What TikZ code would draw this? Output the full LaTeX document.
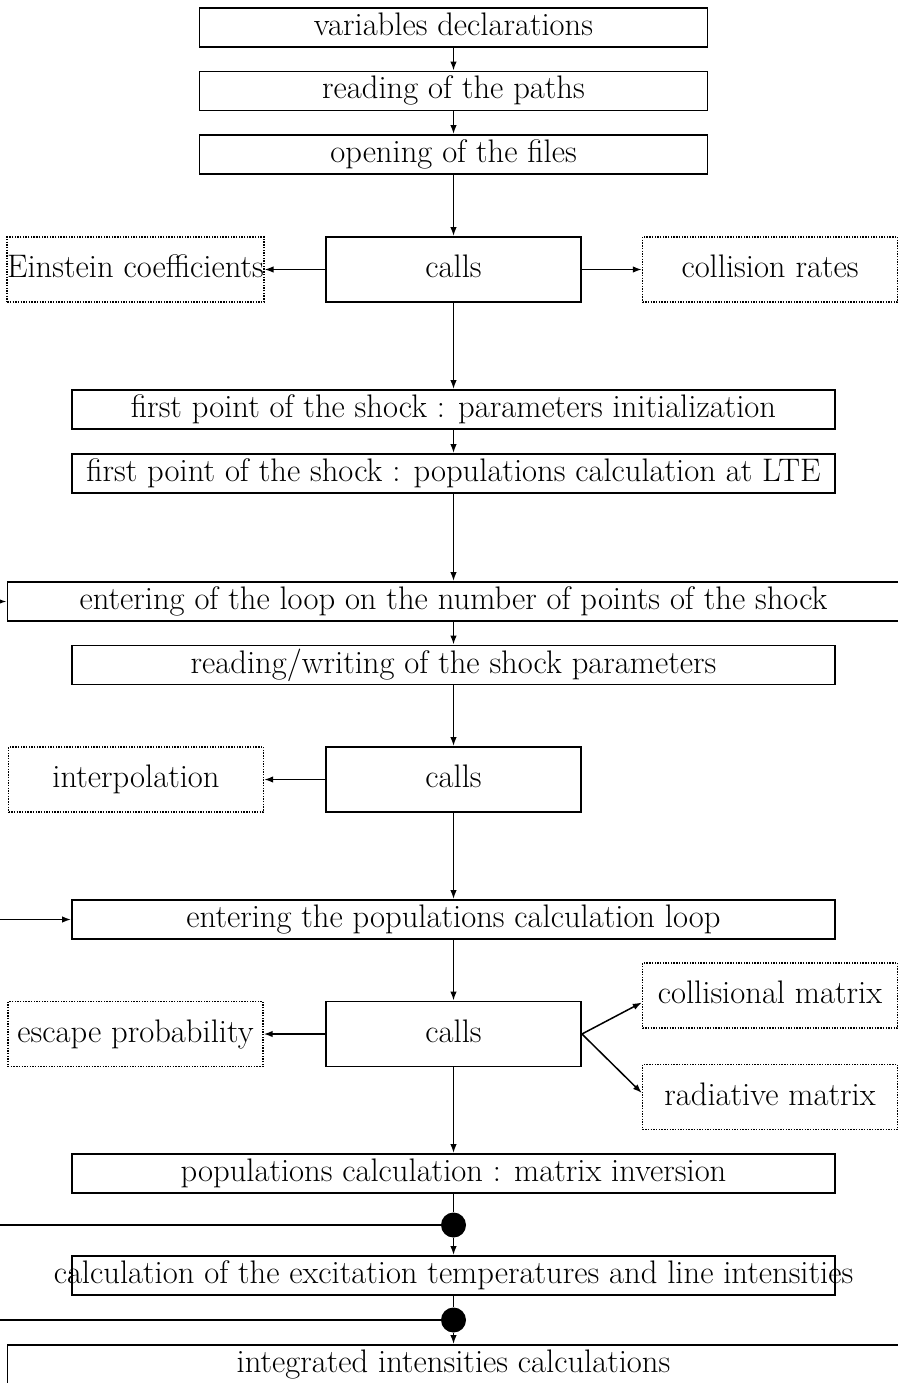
\documentclass[tikz,border=0pt]{standalone}
\usetikzlibrary{arrows.meta,calc}
\newcommand\diagfont{\fontsize{32.6}{39}\selectfont}
\begin{document}
\begin{tikzpicture}[x=1pt,y=-1pt,
  box/.style={draw,line width=1.9pt,inner sep=0pt,minimum height=39pt,
    text height=22.5pt,text depth=6.5pt,font=\diagfont},
  callbox/.style={box,minimum width=255pt,minimum height=65pt},
  dbox/.style={draw,line width=1.4pt,dash pattern=on 1.4pt off 1.3pt,inner sep=0pt,
    minimum width=255pt,minimum height=65pt,text height=22.5pt,text depth=6.5pt,font=\diagfont},
  junction/.style={circle,fill=black,inner sep=0pt,minimum size=25pt},
  arr/.style={line width=1.5pt,-{Latex[length=9pt,width=6.5pt]}},
  plain/.style={line width=1.5pt}]
\useasboundingbox (0,0) rectangle (897,1383);
% main column
\node[box,minimum width=508pt] (vd) at (453.5,27.5) {variables declarations};
\node[box,minimum width=508pt] (rp) at (453.5,91) {reading of the paths};
\node[box,minimum width=508pt] (of) at (453.5,154.5) {opening of the files};
\node[callbox] (c1) at (453.5,269.5) {calls};
\node[dbox] (ein) at (135.5,269.5) {Einstein coefficients};
\node[dbox] (colr) at (770,269.5) {collision rates};
\node[box,minimum width=763pt] (pi) at (453.5,409.5) {first point of the shock : parameters initialization};
\node[box,minimum width=763pt] (lte) at (453.5,473.5) {first point of the shock : populations calculation at LTE};
\node[box,minimum width=892pt] (loop) at (453.5,601.5) {entering of the loop on the number of points of the shock};
\node[box,minimum width=763pt] (rw) at (453.5,665) {reading/writing of the shock parameters};
\node[callbox] (c2) at (453.5,779.5) {calls};
\node[dbox] (interp) at (136,779.5) {interpolation};
\node[box,minimum width=763pt] (pl) at (453.5,919.5) {entering the populations calculation loop};
\node[callbox] (c3) at (453.5,1034) {calls};
\node[dbox] (esc) at (135.5,1034) {escape probability};
\node[dbox] (coll) at (770,995.5) {collisional matrix};
\node[dbox] (rad) at (770,1097) {radiative matrix};
\node[box,minimum width=763pt] (mi) at (453.5,1173.5) {populations calculation : matrix inversion};
\node[junction] (j1) at (453.5,1225) {};
\node[box,minimum width=763pt] (ex) at (453.5,1275.5) {\makebox[763pt]{calculation of the excitation temperatures and line intensities}};
\node[junction] (j2) at (453.5,1320) {};
\node[box,minimum width=892pt] (ii) at (453.5,1364.5) {integrated intensities calculations};
% free ends at the left margin
\coordinate (l1) at (0,601.5);
\coordinate (l2) at (0,919.5);
\coordinate (l3) at (0,1225);
\coordinate (l4) at (0,1320);
% connectors
\draw[arr] (vd) -- (rp);
\draw[arr] (rp) -- (of);
\draw[arr] (of) -- (c1);
\draw[arr] (c1) -- (ein);
\draw[arr] (c1) -- (colr);
\draw[arr] (c1) -- (pi);
\draw[arr] (pi) -- (lte);
\draw[arr] (lte) -- (loop);
\draw[arr] (l1) -- (loop);
\draw[arr] (loop) -- (rw);
\draw[arr] (rw) -- (c2);
\draw[arr] (c2) -- (interp);
\draw[arr] (c2) -- (pl);
\draw[arr] (l2) -- (pl);
\draw[arr] (pl) -- (c3);
\draw[arr] (c3) -- (esc);
\draw[arr] (c3.east) -- ($(coll.west)+(0,7)$);
\draw[arr] (c3.east) -- ($(rad.west)+(0,-4)$);
\draw[arr] (c3) -- (mi);
\draw[plain] (mi) -- (j1);
\draw[plain] (l3) -- (j1);
\draw[arr] (j1) -- (ex);
\draw[plain] (ex) -- (j2);
\draw[plain] (l4) -- (j2);
\draw[arr] (j2) -- (ii);
\end{tikzpicture}
\end{document}
